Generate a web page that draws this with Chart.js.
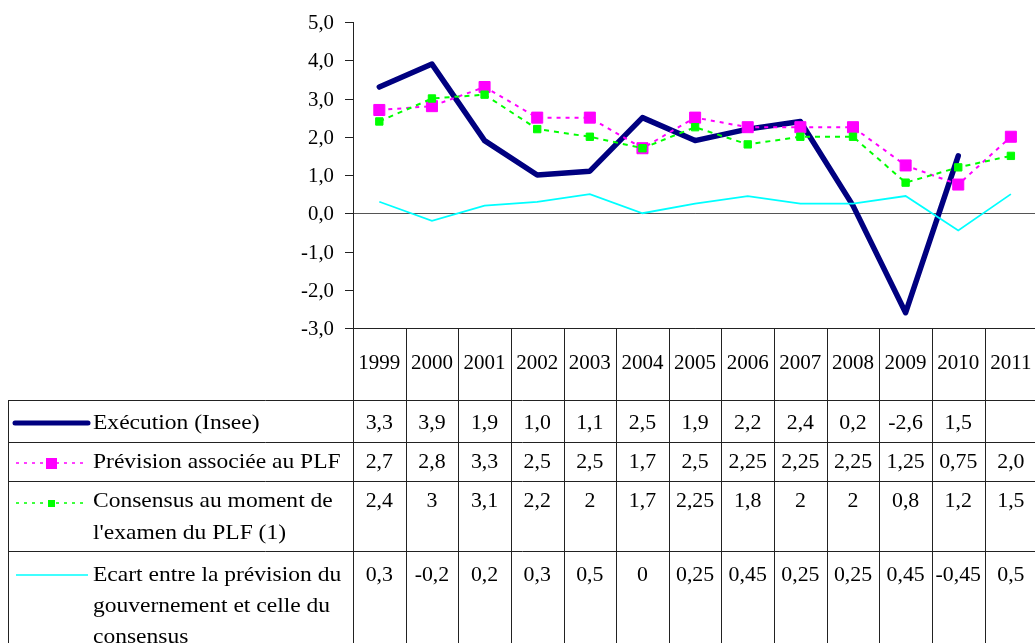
<!DOCTYPE html>
<html>
<head>
<meta charset="utf-8">
<script src="https://cdn.jsdelivr.net/npm/chart.js@4"></script>
<style>
  html, body { margin: 0; padding: 0; background: #fff; overflow: hidden; }
  canvas { display: block; }
</style>
</head>
<body>
<canvas id="grafico" width="1046" height="643"></canvas>
<script>
// données
const annees = ['1999', '2000', '2001', '2002', '2003', '2004', '2005', '2006', '2007', '2008', '2009', '2010', '2011'];
const execution = [3.3, 3.9, 1.9, 1.0, 1.1, 2.5, 1.9, 2.2, 2.4, 0.2, -2.6, 1.5, null];
const previsionPLF = [2.7, 2.8, 3.3, 2.5, 2.5, 1.7, 2.5, 2.25, 2.25, 2.25, 1.25, 0.75, 2.0];
const consensus = [2.4, 3, 3.1, 2.2, 2, 1.7, 2.25, 1.8, 2, 2, 0.8, 1.2, 1.5];
const ecart = [0.3, -0.2, 0.2, 0.3, 0.5, 0, 0.25, 0.45, 0.25, 0.25, 0.45, -0.45, 0.5];

// textes du tableau (tels qu'affichés)
const txtExecution = ['3,3', '3,9', '1,9', '1,0', '1,1', '2,5', '1,9', '2,2', '2,4', '0,2', '-2,6', '1,5', ''];
const txtPrevision = ['2,7', '2,8', '3,3', '2,5', '2,5', '1,7', '2,5', '2,25', '2,25', '2,25', '1,25', '0,75', '2,0'];
const txtConsensus = ['2,4', '3', '3,1', '2,2', '2', '1,7', '2,25', '1,8', '2', '2', '0,8', '1,2', '1,5'];
const txtEcart = ['0,3', '-0,2', '0,2', '0,3', '0,5', '0', '0,25', '0,45', '0,25', '0,25', '0,45', '-0,45', '0,5'];
const yTicks = [5, 4, 3, 2, 1, 0, -1, -2, -3];

const lblExecution = ['Exécution (Insee)'];
const lblPrevision = ['Prévision associée au PLF'];
const lblConsensus = ['Consensus au moment de', "l'examen du PLF (1)"];
const lblEcart = ['Ecart entre la prévision du', 'gouvernement et celle du', 'consensus'];

const POLICE = '"Liberation Serif", "Times New Roman", serif';

function texte(ctx, s, x, y, align, sx) {
  ctx.save();
  ctx.translate(x, y);
  ctx.scale(sx || 1, 1);
  ctx.textAlign = align;
  ctx.textBaseline = 'middle';
  ctx.fillText(s, 0, 0);
  ctx.restore();
}

function ligne(ctx, x1, y1, x2, y2) {
  ctx.beginPath();
  ctx.moveTo(x1, y1);
  ctx.lineTo(x2, y2);
  ctx.stroke();
}

// lignes du tableau : [y haut, y bas, centres des lignes de texte]
const rangees = [
  { top: 400.5, lignes: [423], labels: lblExecution, vals: txtExecution },
  { top: 442.5, lignes: [462], labels: lblPrevision, vals: txtPrevision },
  { top: 481.5, lignes: [501, 533], labels: lblConsensus, vals: txtConsensus },
  { top: 551.5, lignes: [575, 606, 637], labels: lblEcart, vals: txtEcart }
];

const pluginTableau = {
  id: 'tableau',
  beforeDatasetsDraw(chart) {
    const ctx = chart.ctx;
    const y = chart.scales.y;
    const a = chart.chartArea;
    // ligne du zéro
    ctx.save();
    ctx.strokeStyle = '#555';
    ctx.lineWidth = 1;
    const y0 = Math.round(y.getPixelForValue(0)) + 0.5;
    ligne(ctx, a.left, y0, a.right, y0);
    ctx.restore();
  },
  afterDraw(chart) {
    const ctx = chart.ctx;
    const x = chart.scales.x;
    const y = chart.scales.y;
    const a = chart.chartArea;
    const H = chart.height;
    const larg = (a.right - a.left) / annees.length;

    ctx.save();
    ctx.fillStyle = '#000';
    ctx.strokeStyle = '#222';
    ctx.lineWidth = 1;

    // axe vertical : graduations et libellés
    ctx.font = '20px ' + POLICE;
    yTicks.forEach(v => {
      const py = Math.round(y.getPixelForValue(v)) + 0.5;
      ligne(ctx, a.left - 8, py, a.left, py);
      texte(ctx, v.toFixed(1).replace('.', ','), a.left - 19, py + 1, 'right', 1.04);
    });

    // quadrillage du tableau
    const xl = Math.round(a.left) + 0.5;
    ligne(ctx, xl, a.top, xl, H);
    for (let i = 0; i <= annees.length; i++) {
      const px = Math.round(a.left + i * larg) + 0.5;
      ligne(ctx, px, a.bottom, px, H);
    }
    ligne(ctx, a.left, Math.round(a.bottom) + 0.5, a.right, Math.round(a.bottom) + 0.5);
    rangees.forEach(r => ligne(ctx, 8, r.top, a.right, r.top));
    ligne(ctx, 8.5, rangees[0].top, 8.5, H);

    // années
    ctx.font = '21px ' + POLICE;
    annees.forEach((an, i) => texte(ctx, an, x.getPixelForValue(i), 363, 'center', 1));

    // valeurs et libellés
    rangees.forEach(r => {
      ctx.font = '21px ' + POLICE;
      r.vals.forEach((s, i) => texte(ctx, s, x.getPixelForValue(i), r.lignes[0], 'center', 1.04));
      r.labels.forEach((s, k) => texte(ctx, s, 93, r.lignes[k], 'left', 1.12));
    });

    // symboles de légende
    ctx.lineCap = 'round';
    ctx.strokeStyle = '#000080';
    ctx.lineWidth = 5;
    ligne(ctx, 15, 423, 88, 423);

    ctx.lineCap = 'butt';
    ctx.lineWidth = 1.5;
    ctx.setLineDash([3, 5]);
    ctx.strokeStyle = '#FF00FF';
    ligne(ctx, 16, 463, 86, 463);
    ctx.strokeStyle = '#00FF00';
    ligne(ctx, 16, 503, 86, 503);
    ctx.setLineDash([]);
    ctx.fillStyle = '#FF00FF';
    ctx.fillRect(46, 458, 11, 11);
    ctx.fillStyle = '#00FF00';
    ctx.fillRect(48, 500, 7, 7);
    ctx.strokeStyle = '#00FFFF';
    ctx.lineWidth = 1.5;
    ligne(ctx, 16, 575, 88, 575);
    ctx.restore();
  }
};

new Chart(document.getElementById('grafico').getContext('2d'), {
  type: 'line',
  data: {
    labels: annees,
    datasets: [
      {
        label: 'Exécution (Insee)',
        data: execution,
        borderColor: '#000080',
        backgroundColor: '#000080',
        borderWidth: 5.5,
        borderJoinStyle: 'round',
        borderCapStyle: 'round',
        pointRadius: 0,
        tension: 0,
        order: 4
      },
      {
        label: 'Prévision associée au PLF',
        data: previsionPLF,
        borderColor: '#FF00FF',
        backgroundColor: '#FF00FF',
        borderWidth: 2,
        borderDash: [4, 5],
        pointStyle: 'rect',
        pointRadius: 7.8,
        pointBorderWidth: 1,
        tension: 0,
        order: 3
      },
      {
        label: "Consensus au moment de l'examen du PLF (1)",
        data: consensus,
        borderColor: '#00FF00',
        backgroundColor: '#00FF00',
        borderWidth: 2,
        borderDash: [5, 5],
        pointStyle: 'rect',
        pointRadius: 5.2,
        pointBorderWidth: 1,
        tension: 0,
        order: 2
      },
      {
        label: 'Ecart entre la prévision du gouvernement et celle du consensus',
        data: ecart,
        borderColor: '#00FFFF',
        backgroundColor: '#00FFFF',
        borderWidth: 1.8,
        pointRadius: 0,
        tension: 0,
        order: 1
      }
    ]
  },
  options: {
    responsive: false,
    animation: false,
    devicePixelRatio: 1,
    layout: { padding: { top: 22, left: 0, right: 0, bottom: 0 } },
    plugins: {
      legend: { display: false },
      tooltip: { enabled: false }
    },
    scales: {
      x: {
        type: 'category',
        offset: true,
        grid: { display: false },
        border: { display: false },
        ticks: { display: false },
        afterFit(scale) { scale.height = 315; }
      },
      y: {
        min: -3,
        max: 5,
        ticks: { display: false, stepSize: 1 },
        grid: { display: false },
        border: { display: true, color: '#222', width: 1 },
        afterFit(scale) { scale.width = 353; }
      }
    }
  },
  plugins: [pluginTableau]
});
</script>
</body>
</html>
